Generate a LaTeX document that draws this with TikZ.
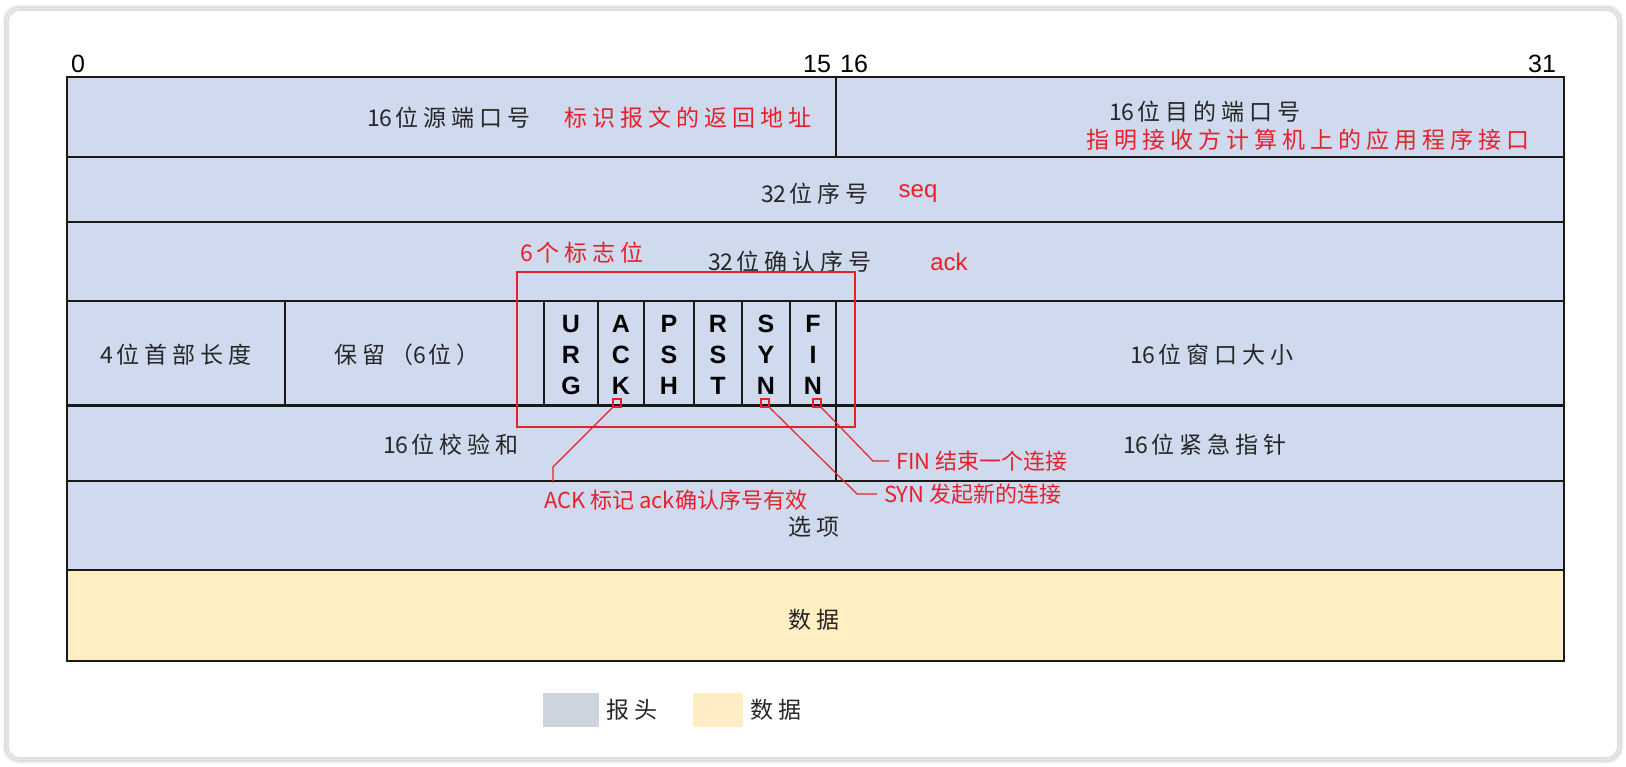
\documentclass[tikz,border=0pt]{standalone}
\usepackage{fontspec}
\setmainfont{Liberation Sans}
\newfontfamily\kai[LetterSpace=22]{Noto Sans CJK SC}
\newfontfamily\yahei{Noto Sans CJK SC}
\newcommand{\dg}[1]{{\yahei #1}\hspace{1.5pt}}
\usetikzlibrary{arrows.meta, shapes}

\definecolor{hdrblue}{HTML}{CFDAEE}
\definecolor{datyel}{HTML}{FFEFC2}
\definecolor{leggrey}{HTML}{CDD4DE}
\definecolor{legyel}{HTML}{FFEEC4}
\definecolor{notered}{HTML}{E8202A}

\tikzset{
  lbl/.style={font=\kai\fontsize{11.5}{14}\selectfont, text=black!85},
  note/.style={font=\kai\fontsize{11.5}{14}\selectfont, text=notered},
  ann/.style={font=\yahei\fontsize{11}{13}\selectfont, text=notered},
  flag/.style={font=\bfseries\fontsize{12.5}{15.5}\selectfont, align=center},
  bitno/.style={font=\fontsize{12.5}{15}\selectfont},
  flagpin/.style={draw=notered, line width=0.7pt, minimum size=4pt, inner sep=0pt},
  legbox/.style={minimum width=28pt, minimum height=17pt, inner sep=0pt},
  cell/.style={line width=1.1pt, draw=black!90},
  lead/.style={draw=notered, line width=0.6pt},
}

\begin{document}
\begin{tikzpicture}[x=0.5pt, y=-0.5pt]
            \useasboundingbox (0,0) rectangle (1626,766);
            \foreach \i/\o in {4/0.03, 3/0.05, 2/0.07}
                \draw[black, opacity=\o, line width=1.5pt, rounded corners=7pt] (8-\i,10-\i) rectangle (1618+\i,758+\i);
            \draw[gray!25, fill=white, line width=0.8pt, rounded corners=6pt] (8,10) rectangle (1618,758);

            % table
            \fill[hdrblue] (67,77) rectangle (1564,570);
            \fill[datyel] (67,570) rectangle (1564,661);
            \foreach \y in {157,222,301,405.5,481,570}
                \draw[cell] (67,\y) -- (1564,\y);
            \draw[cell] (836,77) -- (836,157);
            \foreach \x in {285,544,598,644,694,742,790,836}
                \draw[cell] (\x,301) -- (\x,405.5);
            \draw[cell] (836,405.5) -- (836,481);
            \draw[cell] (67,77) rectangle (1564,661);

            \begin{scope}[every node/.style={bitno}]
                \node (b0) at (78,64) {0};
                \node (b15) at (817,64) {15};
                \node (b16) at (854,64) {16};
                \node (b31) at (1542,64) {31};
            \end{scope}

            \begin{scope}[every node/.style={lbl}]
                \node (sport) at (449,118) {\dg{16}位源端口号};
                \node (dport) at (1205,112) {\dg{16}位目的端口号};
                \node (seqno) at (815,194) {\dg{32}位序号};
                \node (ackno) at (790,262) {\dg{32}位确认序号};
                \node (hlen) at (176,355) {\dg{4}位首部长度};
                \node (resv) at (407,355) {保留（\dg{6}位）};
                \node (win) at (1212,355) {\dg{16}位窗口大小};
                \node (csum) at (451,445) {\dg{16}位校验和};
                \node (urgp) at (1205,445) {\dg{16}位紧急指针};
                \node (opts) at (814,527) {选项};
                \node (data) at (814,620) {数据};
            \end{scope}

            \begin{scope}[every node/.style={note}]
                \node (sportnote) at (688,118) {标识报文的返回地址};
                \node (dportnote) at (1308,140) {指明接收方计算机上的应用程序接口};
                \node (flagsnote) at (582,253) {\dg{6}个标志位};
            \end{scope}
            \node[ann, font=\fontsize{12}{14}\selectfont] (seqnote) at (918,194) {seq};
            \node[ann, font=\fontsize{12}{14}\selectfont] (acknote) at (949,262) {ack};

            \begin{scope}[every node/.style={flag}]
                \node (fU) at (571,355) {U\\R\\G};
                \node (fA) at (621,355) {A\\C\\K};
                \node (fP) at (669,355) {P\\S\\H};
                \node (fR) at (718,355) {R\\S\\T};
                \node (fS) at (766,355) {S\\Y\\N};
                \node (fF) at (813,355) {F\\I\\N};
            \end{scope}

            \draw[notered, line width=0.75pt] (517,272) rectangle (855,427);

            \node[flagpin] (pinA) at (617,403) {};
            \node[flagpin] (pinS) at (765,403) {};
            \node[flagpin] (pinF) at (817,403) {};

            \node[ann, anchor=west] (acktxt) at (537,500) {ACK 标记 ack确认序号有效};
            \node[ann, anchor=west] (syntxt) at (877,494) {SYN 发起新的连接};
            \node[ann, anchor=west] (fintxt) at (889,461) {FIN 结束一个连接};
            \coordinate (ackbend) at (553,467);
            \coordinate (synbend) at (857,494);
            \coordinate (finbend) at (873,461);
            \draw[lead] (pinA) -- (ackbend) -- (ackbend |- acktxt.north);
            \draw[lead] (pinS) -- (synbend) -- (syntxt.west);
            \draw[lead] (pinF) -- (finbend) -- (fintxt.west);

            % legend
            \node[legbox, fill=leggrey] (hdrkey) at (571,710) {};
            \node[lbl, anchor=west] (hdrtxt) at (hdrkey.east) {报头};
            \node[legbox, fill=legyel, minimum width=25pt] (datkey) at (718,710) {};
            \node[lbl, anchor=west] (dattxt) at (datkey.east) {数据};
\end{tikzpicture}
\end{document}
